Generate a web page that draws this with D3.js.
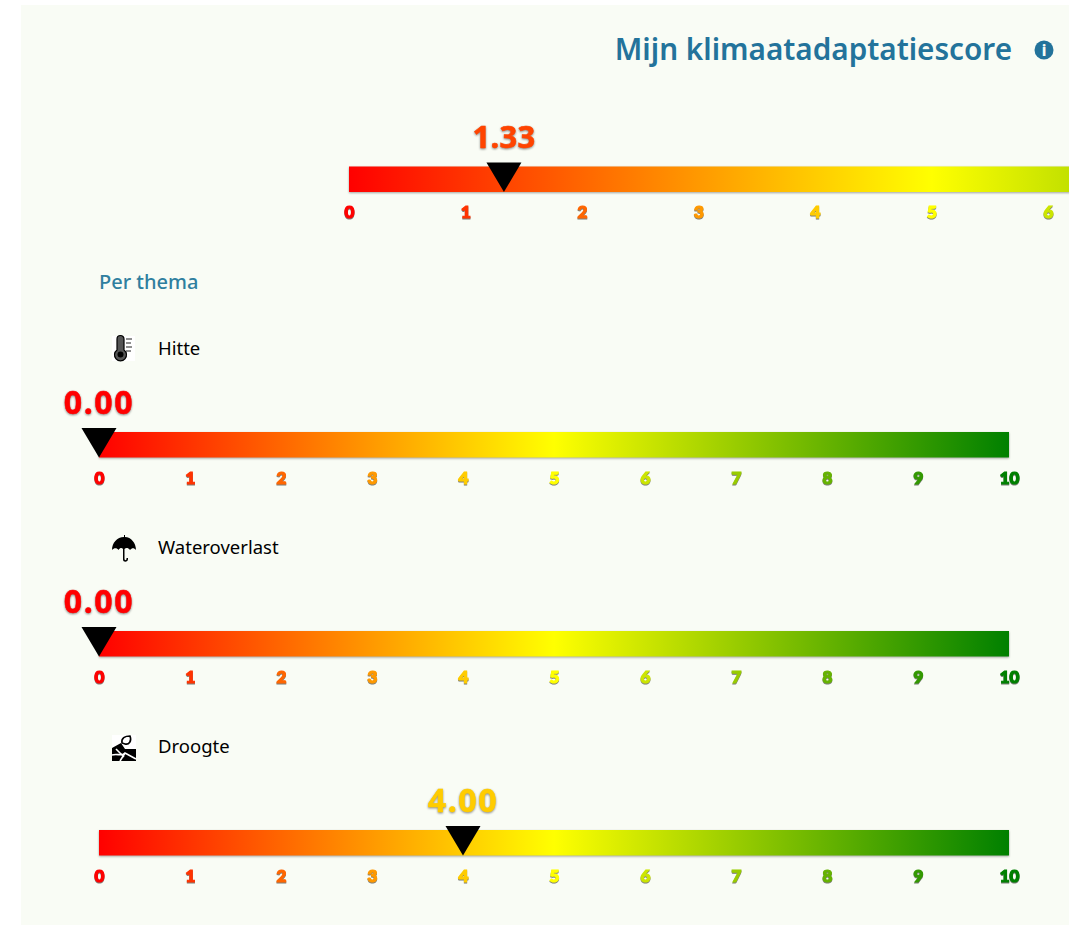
<!DOCTYPE html>
<html>
<head>
<meta charset="utf-8">
<script src="https://cdn.jsdelivr.net/npm/d3@7"></script>
<style>
html, body { margin: 0; padding: 0; background: #fff; overflow: hidden; }
svg { display: block; font-family: "Noto Sans", sans-serif; }
.tick text { font-family: "Lato", sans-serif; font-weight: 900; font-size: 17px; stroke-width: 1.2px; paint-order: stroke; filter: drop-shadow(0.5px 1px 0.7px rgba(0,0,0,.5)); }
.score { font-family: "Noto Sans", sans-serif; font-weight: 700; stroke-width: .5px; filter: drop-shadow(0.5px 1px 0.8px rgba(0,0,0,.45)); }
.bar { filter: drop-shadow(0 1px 1px rgba(0,0,0,.35)); }
</style>
</head>
<body>
<div id="container"></div>
<script>
const width = 1069, height = 925;

// Values
const tickValues = [0, 1, 2, 3, 4, 5, 6, 7, 8, 9, 10];
const overallScore = 1.33;
const themes = ["Hitte", "Wateroverlast", "Droogte"];
const themeScores = [0, 0, 4];
const titleText = "Mijn klimaatadaptatiescore";
const subTitle = "Per thema";

const blue = "#23739b";
const panelColor = "#f9fcf5";

const svg = d3.select("#container").append("svg")
    .attr("width", width)
    .attr("height", height);

// Panel background
svg.append("rect")
    .attr("x", 21).attr("y", 5)
    .attr("width", width - 21).attr("height", height - 5)
    .attr("fill", panelColor);

// Same colours for the bar and the numbers
const colors = d3.scaleLinear()
    .domain([0, 5, 10])
    .range(["#ff0000", "#ffff00", "#008000"]);

const defs = svg.append("defs");
const grad = defs.append("linearGradient").attr("id", "scoreGradient");
grad.selectAll("stop")
    .data(colors.domain())
    .enter()
    .append("stop")
    .attr("offset", d => d / 10)
    .attr("stop-color", d => colors(d));

// Draw one scale with its marker and value
function drawGauge(score, x0, x1, barTop, fontSize, spacing) {
    const barHeight = 25.5;
    const x = d3.scaleLinear().domain([0, 10]).range([x0, x1]);
    const g = svg.append("g");

    g.append("rect")
        .attr("class", "bar")
        .attr("x", x(0))
        .attr("y", barTop)
        .attr("width", x(10) - x(0))
        .attr("height", barHeight)
        .attr("fill", "url(#scoreGradient)");

    // Tick labels, no lines. The top scale runs past the window, skip those
    const axis = g.append("g")
        .attr("transform", `translate(0,${barTop + barHeight})`)
        .call(d3.axisBottom(x)
            .tickValues(tickValues.filter(d => x(d) < width))
            .tickSize(0)
            .tickPadding(14));
    axis.select(".domain").remove();
    axis.selectAll(".tick text")
        .attr("fill", d => colors(d))
        .attr("stroke", d => colors(d));

    // Marker
    const tip = barTop + barHeight;
    g.append("path")
        .attr("d", `M${x(score) - 17.5},${barTop - 4}H${x(score) + 17.5}L${x(score)},${tip}Z`)
        .attr("fill", "#000");

    g.append("text")
        .attr("class", "score")
        .attr("x", x(score))
        .attr("y", barTop - 18.5)
        .attr("text-anchor", "middle")
        .attr("font-size", fontSize)
        .attr("letter-spacing", spacing)
        .attr("fill", colors(score))
        .attr("stroke", colors(score))
        .text(score.toFixed(2));
}

// Title and info icon
svg.append("text")
    .attr("x", 1012).attr("y", 60)
    .attr("text-anchor", "end")
    .attr("font-size", 29.7)
    .attr("font-weight", 600)
    .attr("fill", blue)
    .text(titleText);
svg.append("circle").attr("cx", 1044).attr("cy", 50).attr("r", 9.5).attr("fill", blue);
svg.append("text")
    .attr("x", 1044).attr("y", 55.5)
    .attr("text-anchor", "middle")
    .attr("font-size", 15)
    .attr("font-weight", 800)
    .attr("fill", panelColor)
    .text("i");

svg.append("text")
    .attr("x", 99).attr("y", 289)
    .attr("font-size", 20)
    .attr("font-weight", 500)
    .attr("fill", "#2f7f9f")
    .text(subTitle);

drawGauge(overallScore, 349, 1514, 166.5, 31, 0.3);

const themeTops = [432, 631, 830];
const themeLabelY = [355, 554, 753];

themes.forEach((name, i) => {
    drawGauge(themeScores[i], 99, 1009, themeTops[i], 32, 1.6);
    svg.append("text")
        .attr("x", 158).attr("y", themeLabelY[i])
        .attr("font-size", 18.5)
        .attr("fill", "#000")
        .text(name);
});

// Icons
const therm = svg.append("g").attr("transform", "translate(112,336)");
therm.append("rect").attr("width", 23).attr("height", 25).attr("fill", "#fff");
therm.append("path")
    .attr("d", "M8,2a3.5,3.5 0 0 1 7,0 M8,2V13a6,6 0 1 0 7,0V2")
    .attr("transform", "translate(-3,1)")
    .attr("fill", "#555").attr("stroke", "#000").attr("stroke-width", 1.2);
therm.append("circle").attr("cx", 8.5).attr("cy", 18.5).attr("r", 3).attr("fill", "#000");
therm.append("path")
    .attr("d", "M14,3h6M14,7h5M14,11h6M14,15h5")
    .attr("stroke", "#222").attr("stroke-width", 1.2);

svg.append("path")
    .attr("transform", "translate(112,535)")
    .attr("d", "M12,0V2C5,2 0,8 0,15C2,12.5 5,12.5 6.5,15C8,12.5 10,12.5 11,14V24.5C11,27.5 16,27.5 16,24V23H14.5V24C14.5,25.5 12.5,25.5 12.5,24V14C14,12.5 16,12.5 18,15C20,12.5 22,12.5 24,15C24,8 19,2 13,2V0Z")
    .attr("fill", "#000");

const leaf = svg.append("g").attr("transform", "translate(112,735)");
leaf.append("rect").attr("width", 24).attr("height", 26).attr("fill", "#fff");
leaf.append("path")
    .attr("d", "M0,13L9,8L13,14L24,14V26H0Z")
    .attr("fill", "#000");
leaf.append("path")
    .attr("d", "M0,20C6,18 9,22 13,18L24,24M8,26L13,18M4,14L12,22")
    .attr("fill", "none").attr("stroke", "#fff").attr("stroke-width", 1.6);
leaf.append("path")
    .attr("d", "M10,8C9,3 13,1 18,1C20,6 17,10 13,9Z")
    .attr("fill", "#fff").attr("stroke", "#000").attr("stroke-width", 1.6);
</script>
</body>
</html>
